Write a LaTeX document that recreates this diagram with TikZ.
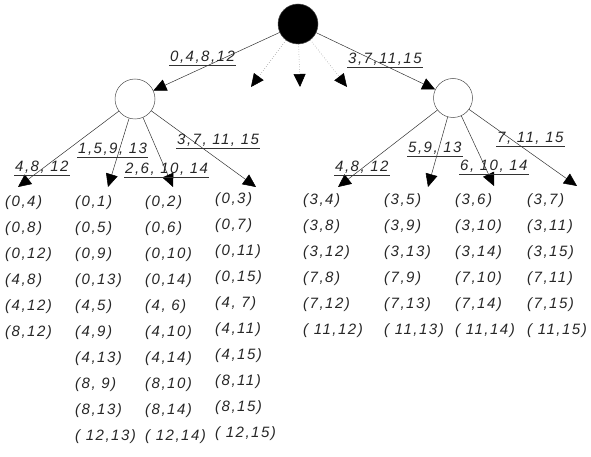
\documentclass[tikz,border=0pt]{standalone}
\usepackage{fontspec}
\setmainfont{Liberation Sans}
\newfontfamily\lfont[LetterSpace=10]{Liberation Sans}
\usetikzlibrary{arrows.meta}
\begin{document}
\begin{tikzpicture}[x=1pt,y=-1pt,
  every node/.style={inner sep=0pt},
  txt/.style={font=\lfont\itshape\fontsize{15}{17}\selectfont, anchor=west, text=black!85},
  lab/.style={font=\lfont\itshape\fontsize{15}{17}\selectfont, anchor=south west, inner xsep=1pt, inner ysep=1.5pt, text=black!85},
  conn/.style={draw=black!80, line width=0.5pt, -{Triangle[length=13pt,width=12pt,black]}},
  dconn/.style={draw=black!55, line width=0.5pt, dotted, -{Triangle[length=13pt,width=12pt,black]}},
  circ/.style={circle, draw=black!70, line width=0.5pt, minimum size=40pt},
  uline/.style={draw=black!80, line width=0.6pt}
]
\useasboundingbox (0,0) rectangle (591,457);

% tree nodes
\node[circ, fill=black] (root) at (298,24) {};
\node[circ] (lc) at (135,99) {};
\node[circ, minimum size=39pt] (rc) at (453,98) {};

% arrow end points
\coordinate (d1) at (251,87);
\coordinate (d2) at (300,87);
\coordinate (d3) at (347,87);
\coordinate (la) at (18,187);
\coordinate (lb) at (108,187);
\coordinate (lcc) at (173,187);
\coordinate (ld) at (256,187);
\coordinate (ra) at (338,187);
\coordinate (rb) at (428,187);
\coordinate (rcc) at (494,186);
\coordinate (rd) at (577,186);

% connectors
\draw[conn] (root) -- (lc);
\draw[conn] (root) -- (rc);
\draw[dconn] (root) -- (d1);
\draw[dconn] (root) -- (d2);
\draw[dconn] (root) -- (d3);
\draw[conn] (lc) -- (la);
\draw[conn] (lc) -- (lb);
\draw[conn] (lc) -- (lcc);
\draw[conn] (lc) -- (ld);
\draw[conn] (rc) -- (ra);
\draw[conn] (rc) -- (rb);
\draw[conn] (rc) -- (rcc);
\draw[conn] (rc) -- (rd);

% edge labels (underlined)
\node[lab] (t1) at (169,65) {0,4,8,12};
\node[lab] (t2) at (347,67) {3,7,11,15};
\node[lab] (t3) at (14,175) {4,8, 12};
\node[lab] (t4) at (77,157) {1,5,9, 13};
\node[lab] (t5) at (124,177) {2,6, 10, 14};
\node[lab] (t6) at (176,148) {3,7, 11, 15};
\node[lab] (t7) at (334,175) {4,8, 12};
\node[lab] (t8) at (407,156) {5,9, 13};
\node[lab] (t9) at (459,174) {6, 10, 14};
\node[lab] (t10) at (496,146) {7, 11, 15};
\foreach \n in {t1,t2,t3,t4,t5,t6,t7,t8,t9,t10}
  \draw[uline] (\n.south west) -- (\n.south east);

% left lists
\foreach \t [count=\i from 0] in {{(0,4)},{(0,8)},{(0,12)},{(4,8)},{(4,12)},{(8,12)}}
  \node[txt] (la\i) at (5,203+26*\i) {\t};
\foreach \t [count=\i from 0] in {{(0,1)},{(0,5)},{(0,9)},{(0,13)},{(4,5)},{(4,9)},{(4,13)},{(8, 9)},{(8,13)},{( 12,13)}}
  \node[txt] (lb\i) at (75,203+26*\i) {\t};
\foreach \t [count=\i from 0] in {{(0,2)},{(0,6)},{(0,10)},{(0,14)},{(4, 6)},{(4,10)},{(4,14)},{(8,10)},{(8,14)},{( 12,14)}}
  \node[txt] (lc\i) at (145,203+26*\i) {\t};
\foreach \t [count=\i from 0] in {{(0,3)},{(0,7)},{(0,11)},{(0,15)},{(4, 7)},{(4,11)},{(4,15)},{(8,11)},{(8,15)},{( 12,15)}}
  \node[txt] (ld\i) at (215,200+26*\i) {\t};

% right lists
\foreach \t [count=\i from 0] in {{(3,4)},{(3,8)},{(3,12)},{(7,8)},{(7,12)},{( 11,12)}}
  \node[txt] (ra\i) at (303,201+26*\i) {\t};
\foreach \t [count=\i from 0] in {{(3,5)},{(3,9)},{(3,13)},{(7,9)},{(7,13)},{( 11,13)}}
  \node[txt] (rb\i) at (384,201+26*\i) {\t};
\foreach \t [count=\i from 0] in {{(3,6)},{(3,10)},{(3,14)},{(7,10)},{(7,14)},{( 11,14)}}
  \node[txt] (rc\i) at (455,201+26*\i) {\t};
\foreach \t [count=\i from 0] in {{(3,7)},{(3,11)},{(3,15)},{(7,11)},{(7,15)},{( 11,15)}}
  \node[txt] (rd\i) at (527,201+26*\i) {\t};
\end{tikzpicture}
\end{document}
